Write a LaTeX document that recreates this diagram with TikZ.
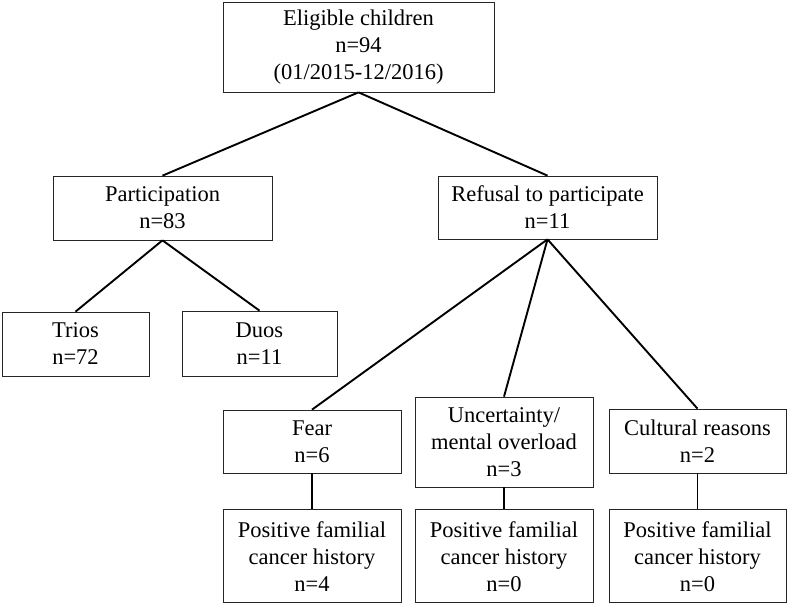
\documentclass[tikz,border=0pt]{standalone}
\usepackage{fontspec}
\setmainfont{Liberation Serif}
\usetikzlibrary{positioning}

\begin{document}
\begin{tikzpicture}[
            x=1pt, y=-1pt,
            box/.style={
                    draw=black!85,
                    line width=0.7pt,
                    inner sep=0pt,
                    align=center,
                    font=\fontsize{22.5}{27}\selectfont
                },
            link/.style={
                    line width=1.9pt
                }
        ]

        \useasboundingbox (0,0) rectangle (788,604);


        \node[box, minimum width=271pt, minimum height=90pt]
        (eligible) at (358.5,47)
        {Eligible children\\n=94\\(01/2015-12/2016)};


        \node[box, minimum width=219pt, minimum height=64pt]
        (particip) at (162.5,208)
        {Participation\\n=83};


        \node[box, minimum width=219pt, minimum height=63pt]
        (refusal) at (547.5,207.5)
        {Refusal to participate\\n=11};


        \node[box, minimum width=147pt, minimum height=64pt]
        (trios) at (75.5,344)
        {Trios\\n=72};


        \node[box, minimum width=155pt, minimum height=65pt]
        (duos) at (259.5,343.5)
        {Duos\\n=11};


        \node[box, minimum width=178pt, minimum height=63pt]
        (fear) at (312,441.5)
        {Fear\\n=6};


        \node[box, minimum width=178pt, minimum height=90pt]
        (uncert) at (504,442)
        {Uncertainty/\\mental overload\\n=3};


        \node[box, minimum width=177pt, minimum height=64pt]
        (cultural) at (697.5,441)
        {Cultural reasons\\n=2};


        \node[box, minimum width=178pt, minimum height=93pt, below=36pt of fear]
        (fearhist)
        {Positive familial\\cancer history\\n=4};


        \node[box, minimum width=178pt, minimum height=93pt, below=22pt of uncert]
        (uncerthist)
        {Positive familial\\cancer history\\n=0};


        \node[box, minimum width=177pt, minimum height=93pt, below=36pt of cultural]
        (culthist)
        {Positive familial\\cancer history\\n=0};


        \draw[link](eligible.south)--(particip.north);
        \draw[link](eligible.south)--(refusal.north);
        \draw[link](particip.south)--(trios.north);
        \draw[link](particip.south)--(duos.north);
        \draw[link](refusal.south)--(fear.north);
        \draw[link](refusal.south)--(uncert.north);
        \draw[link](refusal.south)--(cultural.north);
        \draw[link](fear)--(fearhist);
        \draw[link](uncert)--(uncerthist);
        \draw[link](cultural)--(culthist);


    \end{tikzpicture}
\end{document}
